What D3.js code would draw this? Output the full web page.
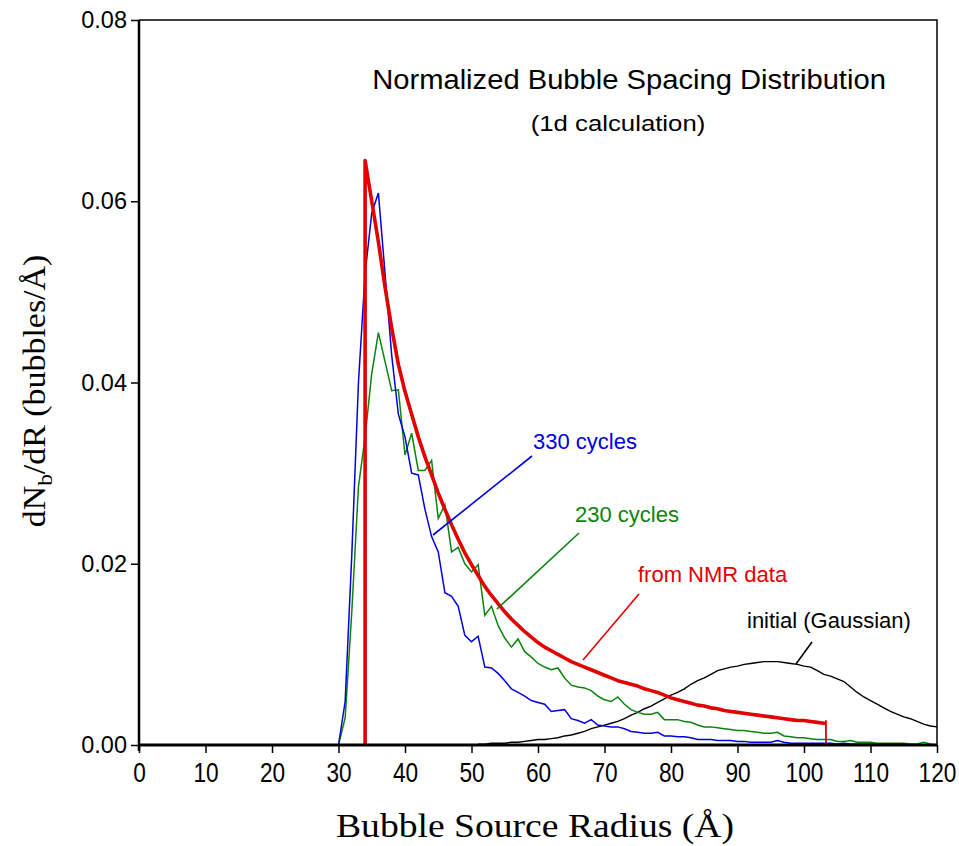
<!DOCTYPE html>
<html>
<head>
<meta charset="utf-8">
<script src="https://cdn.jsdelivr.net/npm/d3@7"></script>
<style>
  html, body { margin: 0; padding: 0; background: #fff; }
  svg { display: block; }
  text { font-family: "Liberation Sans", Arial, sans-serif; }
  .serif { font-family: "Liberation Serif", "Times New Roman", serif; }
</style>
</head>
<body>
<svg id="chart" width="959" height="846"></svg>
<script>
// Bubble source radius grid (Å) for the simulated distributions
const simRadius = d3.range(26, 121);

// 330 cycles (blue), dN/dR at each radius from 26 to 120 Å
const cycles330 = [
  0, 0, 0, 0,
  0, 0.0048, 0.021, 0.040, 0.052, 0.0587, 0.0609, 0.052, 0.043, 0.0365,
  0.034, 0.030, 0.0298, 0.026, 0.023, 0.0213, 0.0168, 0.0164, 0.0153, 0.0121,
  0.0114, 0.0120, 0.0086, 0.0085, 0.0079, 0.0071, 0.0062, 0.0058, 0.0054, 0.0049,
  0.0047, 0.0045, 0.0037, 0.0038, 0.0039, 0.0029, 0.0027, 0.0024, 0.0028, 0.0022,
  0.0021, 0.0020, 0.0020, 0.0018, 0.0015, 0.0014, 0.0013, 0.0013, 0.0014, 0.0010,
  0.0010, 0.0009, 0.0009, 0.0008, 0.0006, 0.0006, 0.0006, 0.0005, 0.0005, 0.0005,
  0.0004, 0.0004, 0.0003, 0.0003, 0.0003, 0.0003, 0.0005, 0.0003, 0.0002, 0.0002,
  0.0002, 0.0002, 0.0002, 0.0002, 0.0002, 0.0001, 0.0002, 0.0001, 0.0001, 0.0001,
  0.0001, 0.0001, 0.0001, 0.0001, 0.0001, 0.0001, 0.0000
];

// 230 cycles (green)
const cycles230 = [
  0, 0, 0, 0,
  0, 0.0030, 0.0147, 0.0285, 0.034, 0.041, 0.0455, 0.0423, 0.0391, 0.0392,
  0.032, 0.0344, 0.0303, 0.0303, 0.0314, 0.025, 0.0265, 0.0213, 0.0218, 0.0200,
  0.0191, 0.0199, 0.0143, 0.0153, 0.0132, 0.0118, 0.0108, 0.0117, 0.0103, 0.0097,
  0.0090, 0.0086, 0.0083, 0.0085, 0.0074, 0.0066, 0.0064, 0.0063, 0.0060, 0.0054,
  0.0050, 0.0048, 0.0053, 0.0045, 0.0039, 0.0036, 0.0034, 0.0034, 0.0036, 0.0028,
  0.0028, 0.0028, 0.0026, 0.0025, 0.0022, 0.0020, 0.0020, 0.0019, 0.0018, 0.0017,
  0.0016, 0.0016, 0.0015, 0.0014, 0.0013, 0.0013, 0.0014, 0.0010, 0.0009, 0.0008,
  0.0008, 0.0007, 0.0006, 0.0006, 0.0006, 0.0004, 0.0004, 0.0005, 0.0003, 0.0003,
  0.0003, 0.0002, 0.0002, 0.0002, 0.0002, 0.0002, 0.0001, 0.0001, 0.0003, 0.0001,
  0.0000
];

// Initial Gaussian distribution (black), radius 51 to 120 Å
const gaussRadius = d3.range(51, 121);
const initialGaussian = [
  0.0001, 0.0001, 0.0002, 0.0002, 0.0002, 0.0003, 0.0003, 0.0004, 0.0005, 0.0006,
  0.0006, 0.0007, 0.0008, 0.0010, 0.0011, 0.0013, 0.0015, 0.0018, 0.0020, 0.0022,
  0.0024, 0.0026, 0.0029, 0.0033, 0.0036, 0.0040, 0.0043, 0.0047, 0.0051, 0.0055,
  0.0058, 0.0062, 0.0067, 0.0071, 0.0074, 0.0078, 0.0082, 0.0084, 0.0086, 0.0087,
  0.0089, 0.0090, 0.0091, 0.0092, 0.0092, 0.0092, 0.0091, 0.0090, 0.0089, 0.0087,
  0.0086, 0.0082, 0.0078, 0.0076, 0.0073, 0.0070, 0.0064, 0.0058, 0.0053, 0.0049,
  0.0045, 0.0041, 0.0037, 0.0034, 0.0031, 0.0029, 0.0026, 0.0023, 0.0021, 0.0020
];

// Distribution derived from NMR data (red), radius 34 to 103.3 Å
const nmrRadius = [
  34, 35, 36, 37, 38, 39, 40, 41, 42, 43, 44, 45, 46, 47, 48, 49, 50, 51, 52, 53,
  54, 55, 56, 57, 58, 59, 60, 61, 62, 63, 64, 65, 66, 67, 68, 69, 70, 71, 72, 73,
  74, 75, 76, 77, 78, 79, 80, 81, 82, 83, 84, 85, 86, 87, 88, 89, 90, 91, 92, 93,
  94, 95, 96, 97, 98, 99, 100, 101, 102, 103, 103.3
];
const nmrData = [
  0.0645, 0.0600, 0.0555, 0.0505, 0.0460, 0.0420, 0.0390, 0.0365, 0.0340, 0.0318,
  0.0298, 0.0278, 0.0260, 0.0243, 0.0227, 0.0212, 0.0199, 0.0187, 0.0175, 0.0165,
  0.0156, 0.0147, 0.0139, 0.0132, 0.0125, 0.0119, 0.0113, 0.0108, 0.0104, 0.0100,
  0.0096, 0.0092, 0.0089, 0.0086, 0.0083, 0.0080, 0.0077, 0.0074, 0.0071, 0.0069,
  0.0067, 0.0065, 0.0062, 0.0060, 0.0058, 0.0055, 0.0052, 0.0050, 0.0048, 0.0046,
  0.0044, 0.0043, 0.0041, 0.0040, 0.0038, 0.0037, 0.0036, 0.0035, 0.0034, 0.0033,
  0.0032, 0.0031, 0.0030, 0.0029, 0.0028, 0.0027, 0.0027, 0.0026, 0.0025, 0.0024,
  0.0024
];

// Axis ticks
const xMajorTicks = [0, 10, 20, 30, 40, 50, 60, 70, 80, 90, 100, 110, 120];
const xMinorTicks = [5, 15, 25, 35, 45, 55, 65, 75, 85, 95, 105, 115];
const yMajorTicks = [0, 0.02, 0.04, 0.06, 0.08];
const yMinorTicks = [0.01, 0.03, 0.05, 0.07];

const svg = d3.select("#chart");
const margin = { left: 139, top: 20, right: 22, bottom: 101 };
const W = 959, H = 846;
const x = d3.scaleLinear().domain([0, 120]).range([margin.left, W - margin.right]);
const y = d3.scaleLinear().domain([0, 0.08]).range([H - margin.bottom, margin.top]);

const colors = { blue: "#0000e0", green: "#0a840a", red: "#e30000", black: "#000" };

const line = d3.line().x(d => x(d[0])).y(d => y(d[1]));

// Frame (top and right)
svg.append("path")
  .attr("d", `M${x(0)},${y(0.08)}H${x(120)}V${y(0)}`)
  .attr("fill", "none").attr("stroke", "#000").attr("stroke-width", 1.5);

// Series
const plot = svg.append("g");
plot.append("path")
  .datum(gaussRadius.map((r, i) => [r, initialGaussian[i]]))
  .attr("d", line).attr("fill", "none").attr("stroke", colors.black).attr("stroke-width", 1.4);
plot.append("path")
  .datum(simRadius.map((r, i) => [r, cycles230[i]]))
  .attr("d", line).attr("fill", "none").attr("stroke", colors.green).attr("stroke-width", 1.5);
plot.append("path")
  .datum(simRadius.map((r, i) => [r, cycles330[i]]).filter(d => d[0] >= 30))
  .attr("d", line).attr("fill", "none").attr("stroke", colors.blue).attr("stroke-width", 1.5);

// NMR curve: thick leading edge at the lower cut-off, thin edge at the upper one
const nmrPts = nmrRadius.map((r, i) => [r, nmrData[i]]);
plot.append("path")
  .datum([[nmrRadius[0], 0]].concat(nmrPts))
  .attr("d", line).attr("fill", "none").attr("stroke", colors.red)
  .attr("stroke-width", 3.6).attr("stroke-linejoin", "round");
const last = nmrPts[nmrPts.length - 1];
plot.append("line")
  .attr("x1", x(last[0])).attr("x2", x(last[0]))
  .attr("y1", y(last[1]) - 3).attr("y2", y(0))
  .attr("stroke", colors.red).attr("stroke-width", 1.8);

// Axes
const xAxisG = svg.append("g").attr("transform", `translate(0,${y(0)})`);
xAxisG.call(d3.axisBottom(x).tickValues(xMinorTicks).tickSize(5).tickFormat(""));
xAxisG.call(d3.axisBottom(x).tickValues(xMajorTicks).tickSize(8).tickPadding(10).tickFormat(d3.format("d")));
xAxisG.selectAll(".domain").attr("stroke-width", 3).attr("d", `M${x(0)},0H${x(120)}`);
xAxisG.selectAll(".tick line").attr("stroke-width", 1.5);
xAxisG.selectAll(".tick text")
  .attr("font-family", "Liberation Sans, Arial, sans-serif")
  .attr("font-size", 27).attr("fill", "#000")
  .attr("transform", "scale(0.84,1)");

const yAxisG = svg.append("g").attr("transform", `translate(${x(0)},0)`);
yAxisG.call(d3.axisLeft(y).tickValues(yMinorTicks).tickSize(5).tickFormat(""));
yAxisG.call(d3.axisLeft(y).tickValues(yMajorTicks).tickSize(8).tickPadding(4).tickFormat(d3.format(".2f")));
yAxisG.selectAll(".domain").attr("stroke-width", 2.5).attr("d", `M0,${y(0.08)}V${y(0) + 6}`);
yAxisG.selectAll(".tick line").attr("stroke-width", 1.5);
yAxisG.selectAll(".tick text")
  .attr("font-family", "Liberation Sans, Arial, sans-serif")
  .attr("font-size", 23.5).attr("fill", "#000");

// Titles
function label(txt, cx, cy, size, sx, anchor, color, cls) {
  const g = svg.append("g").attr("transform", `translate(${cx},${cy}) scale(${sx},1)`);
  const t = g.append("text").attr("font-size", size).attr("text-anchor", anchor)
    .attr("fill", color || "#000").text(txt);
  if (cls) t.attr("class", cls);
  return t;
}
label("Normalized Bubble Spacing Distribution", 629, 89, 27, 1.08, "middle");
label("(1d calculation)", 618, 131, 23, 1.12, "middle");

// Series annotations with leader lines
const notes = [
  { text: "330 cycles", color: colors.blue, tx: 533, ty: 449, l: [[433, 535], [532, 456]] },
  { text: "230 cycles", color: colors.green, tx: 575, ty: 522, l: [[497, 609], [579, 533]] },
  { text: "from NMR data", color: colors.red, tx: 638, ty: 582, l: [[583, 660], [639, 594]] },
  { text: "initial (Gaussian)", color: colors.black, tx: 747, ty: 628, l: [[796, 664], [812, 642]] }
];
notes.forEach(n => {
  svg.append("line")
    .attr("x1", n.l[0][0]).attr("y1", n.l[0][1]).attr("x2", n.l[1][0]).attr("y2", n.l[1][1])
    .attr("stroke", n.color).attr("stroke-width", 1.6);
  label(n.text, n.tx, n.ty, 22, 1.0, "start", n.color);
});

// Axis titles
svg.append("g").attr("transform", "translate(535,837) scale(1.14,1)")
  .append("text").attr("class", "serif").attr("font-size", 33)
  .attr("text-anchor", "middle").attr("fill", "#000")
  .text("Bubble Source Radius (Å)");

const yt = svg.append("g").attr("transform", "translate(45,391) rotate(-90) scale(1.06,1)")
  .append("text").attr("class", "serif").attr("font-size", 32)
  .attr("text-anchor", "middle").attr("fill", "#000");
yt.append("tspan").text("dN");
yt.append("tspan").attr("font-size", 22).attr("dy", 7).text("b");
yt.append("tspan").attr("dy", -7).text("/dR (bubbles/Å)");
</script>
</body>
</html>
